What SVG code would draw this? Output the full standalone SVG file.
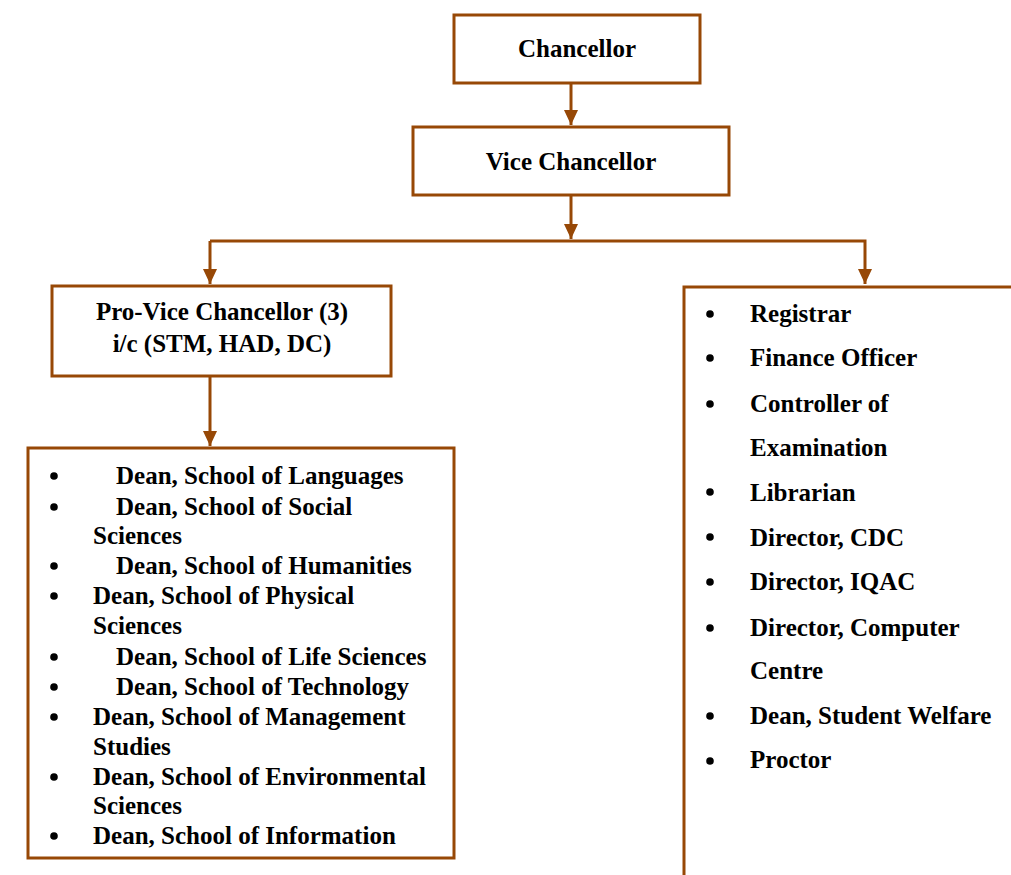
<svg xmlns="http://www.w3.org/2000/svg" width="1011" height="875" viewBox="0 0 1011 875">
<style>
.box{fill:#fff;stroke:#974806;stroke-width:3}
.ln{fill:none;stroke:#974806;stroke-width:3}
.t{font-family:"Liberation Serif","Times New Roman",serif;font-weight:bold;font-size:25px;fill:#000}
.c{text-anchor:middle}
.b{fill:#000}
</style>
<defs>
<marker id="ah" markerUnits="userSpaceOnUse" markerWidth="16" markerHeight="16" viewBox="0 0 16 16" refX="15" refY="8" orient="auto">
<path d="M0,1 L15,8 L0,15 Z" fill="#974806"/>
</marker>
</defs>
<g id="connectors">
<line class="ln" x1="571" y1="83" x2="571" y2="125" marker-end="url(#ah)"/>
<line class="ln" x1="571" y1="196" x2="571" y2="239" marker-end="url(#ah)"/>
<polyline class="ln" points="210,241 865,241 865,284" marker-end="url(#ah)"/>
<line class="ln" x1="210" y1="241" x2="210" y2="284" marker-end="url(#ah)"/>
<line class="ln" x1="210" y1="377" x2="210" y2="446" marker-end="url(#ah)"/>
</g>
<g id="chancellor">
<rect class="box" x="454" y="15" width="246" height="68"/>
<text class="t c" x="577" y="57">Chancellor</text>
</g>
<g id="vice-chancellor">
<rect class="box" x="413" y="127" width="316" height="68"/>
<text class="t c" x="571" y="170">Vice Chancellor</text>
</g>
<g id="pro-vice-chancellor">
<rect class="box" x="52" y="286" width="339" height="90"/>
<text class="t c" x="222" y="320">Pro-Vice Chancellor (3)</text>
<text class="t c" x="222" y="352">i/c (STM, HAD, DC)</text>
</g>
<g id="deans">
<rect class="box" x="28" y="448" width="426" height="410"/>
<g class="b">
<circle cx="54" cy="476" r="3.8"/>
<circle cx="54" cy="507" r="3.8"/>
<circle cx="54" cy="566" r="3.8"/>
<circle cx="54" cy="596" r="3.8"/>
<circle cx="54" cy="657" r="3.8"/>
<circle cx="54" cy="687" r="3.8"/>
<circle cx="54" cy="717" r="3.8"/>
<circle cx="54" cy="777" r="3.8"/>
<circle cx="54" cy="836" r="3.8"/>
</g>
<text class="t" x="116" y="484">Dean, School of Languages</text>
<text class="t" x="116" y="515">Dean, School of Social</text>
<text class="t" x="93" y="544">Sciences</text>
<text class="t" x="116" y="574">Dean, School of Humanities</text>
<text class="t" x="93" y="604">Dean, School of Physical</text>
<text class="t" x="93" y="634">Sciences</text>
<text class="t" x="116" y="665">Dean, School of Life Sciences</text>
<text class="t" x="116" y="695">Dean, School of Technology</text>
<text class="t" x="93" y="725">Dean, School of Management</text>
<text class="t" x="93" y="755">Studies</text>
<text class="t" x="93" y="785">Dean, School of Environmental</text>
<text class="t" x="93" y="814">Sciences</text>
<text class="t" x="93" y="844">Dean, School of Information</text>
</g>
<g id="officers">
<polyline class="box" style="fill:none" points="684,875 684,287 1011,287"/>
<g class="b">
<circle cx="710" cy="314" r="3.8"/>
<circle cx="710" cy="358" r="3.8"/>
<circle cx="710" cy="404" r="3.8"/>
<circle cx="710" cy="492" r="3.8"/>
<circle cx="710" cy="537" r="3.8"/>
<circle cx="710" cy="582" r="3.8"/>
<circle cx="710" cy="628" r="3.8"/>
<circle cx="710" cy="716" r="3.8"/>
<circle cx="710" cy="761" r="3.8"/>
</g>
<text class="t" x="750" y="322">Registrar</text>
<text class="t" x="750" y="366">Finance Officer</text>
<text class="t" x="750" y="412">Controller of</text>
<text class="t" x="750" y="456">Examination</text>
<text class="t" x="750" y="501">Librarian</text>
<text class="t" x="750" y="546">Director, CDC</text>
<text class="t" x="750" y="590">Director, IQAC</text>
<text class="t" x="750" y="636">Director, Computer</text>
<text class="t" x="750" y="679">Centre</text>
<text class="t" x="750" y="724">Dean, Student Welfare</text>
<text class="t" x="750" y="768">Proctor</text>
</g>
</svg>
